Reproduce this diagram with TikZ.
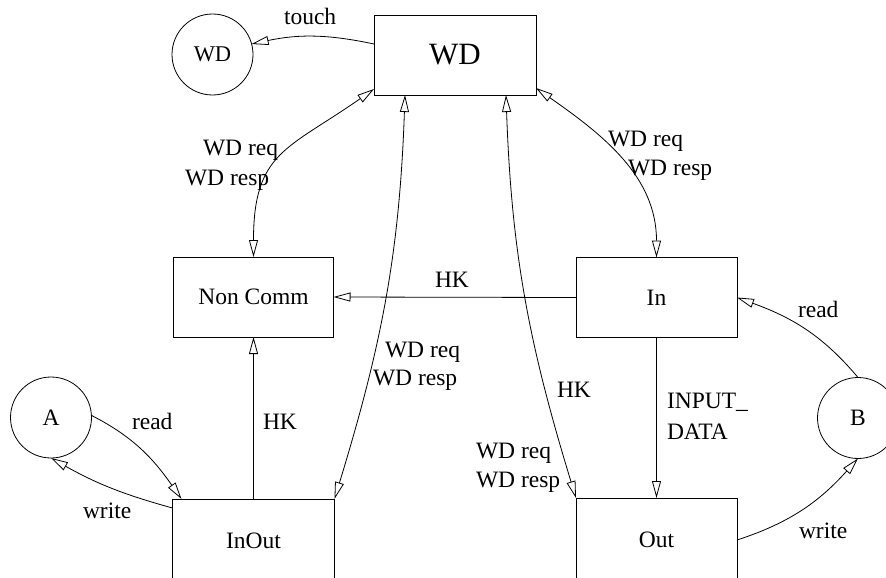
\documentclass[tikz,border=0pt]{standalone}
\usepackage{fontspec}
\setmainfont{Liberation Serif}
\usetikzlibrary{arrows.meta}
\begin{document}
\begin{tikzpicture}[x=1pt,y=-1pt,
  line width=0.8pt,
  >={Triangle[open,length=17pt,width=9pt]},
  every node/.style={inner sep=0pt,outer sep=0pt},
  txt/.style={font=\fontsize{23.5}{28}\selectfont},
  box/.style={draw,txt,minimum width=161pt,minimum height=80pt},
  state/.style={draw,circle,txt,minimum size=81pt},
  lbl/.style={txt,anchor=base west},
]
\useasboundingbox (0,0) rectangle (886,578);
\clip (0,0) rectangle (886,578);

% states
\node[box,minimum width=162pt,font=\fontsize{31}{36}\selectfont] (wd) at (455,55) {WD};
\node[state,font=\fontsize{22.5}{26}\selectfont] (wdc) at (212.5,54.5) {WD};
\node[box,minimum width=160pt] (nc) at (253.5,297) {Non Comm};
\node[box] (in) at (656.5,297.5) {In};
\node[box,minimum width=162pt,minimum height=84pt] (io) at (253.5,541) {InOut};
\node[box,minimum height=84pt] (out) at (656.5,540) {Out};
\node[state] (a) at (51,417.5) {A};
\node[state] (b) at (858,418) {B};

% connectors
\draw[->] ([yshift=11pt]wd.west) to[out=168,in=12] (wdc.15);
\draw[<->] ([yshift=6pt]wd.south west) to[out=215,in=90,looseness=1.3] (nc.north);
\draw[<->] ([yshift=7pt]wd.south east) to[out=-35,in=90] (in.north);
\draw[<->] ([xshift=-50pt]wd.south) to[out=268,in=73] (io.north east);
\draw[<->] ([xshift=51pt]wd.south) to[out=272,in=107] (out.north west);
\draw[->] (in.west) -- (nc.east);
\draw[->] (io.north) -- (nc.south);
\draw[->] (in.south) -- (out.north);
\draw[->] (a.3) to[out=-27,in=125] ([xshift=9pt]io.north west);
\draw[->] ([yshift=-9pt]io.north west) to[bend left=7] (a.south);
\draw[->] (b.north) to[out=130,in=-20] (in.east);
\draw[->] (out.east) to[out=18,in=228] (b.south);

% labels
\node[lbl] (ltouch) at (284,25) {touch};
\node[lbl] (lnc1) at (203,155) {WD req};
\node[lbl] (lnc2) at (185,185) {WD resp};
\node[lbl] (lin1) at (608,146) {WD req};
\node[lbl] (lin2) at (628,175) {WD resp};
\node[lbl] (lhk1) at (435,287) {HK};
\node[lbl] (lio1) at (385,357) {WD req};
\node[lbl] (lio2) at (373,385) {WD resp};
\node[lbl] (lhk2) at (263,429) {HK};
\node[lbl] (lread1) at (132,429) {read};
\node[lbl] (lwrite1) at (83,518) {write};
\node[lbl] (lhk3) at (557,397) {HK};
\node[lbl] (linp1) at (667,408) {INPUT\_};
\node[lbl] (linp2) at (667,439) {DATA};
\node[lbl] (lout1) at (476,458) {WD req};
\node[lbl] (lout2) at (476,487) {WD resp};
\node[lbl] (lread2) at (798,317) {read};
\node[lbl] (lwrite2) at (799,538) {write};
\end{tikzpicture}
\end{document}
